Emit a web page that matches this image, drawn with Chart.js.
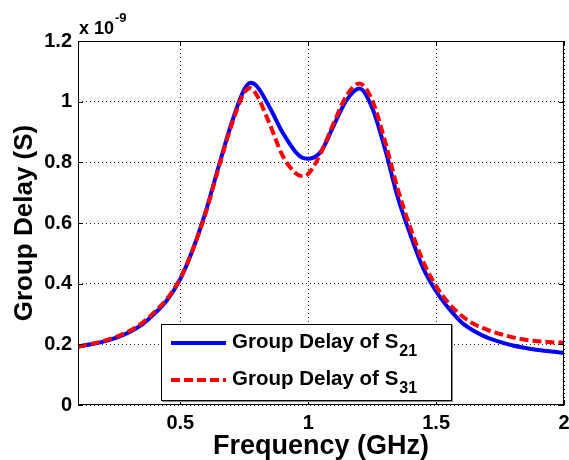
<!DOCTYPE html>
<html>
<head>
<meta charset="utf-8">
<script src="https://cdn.jsdelivr.net/npm/chart.js@4"></script>
<style>
  html, body { margin: 0; padding: 0; background: #fff; }
  #wrap { width: 569px; height: 460px; position: relative; }
</style>
</head>
<body>
<div id="wrap"><canvas id="gd"></canvas></div>
<script>
// frequency in GHz, group delay in units of 1e-9 s
const freqGHz = [0.1, 0.15, 0.2, 0.25, 0.3, 0.35, 0.4, 0.45, 0.5, 0.55, 0.6, 0.65, 0.7, 0.75, 0.775, 0.8, 0.85, 0.9, 0.95, 0.975, 1.0,
  1.05, 1.1, 1.15, 1.2, 1.25, 1.3, 1.35, 1.4, 1.45, 1.5, 1.55, 1.6, 1.65, 1.7, 1.75, 1.8, 1.85, 1.9, 1.95, 2.0];
const delayS21 = [0.193, 0.200, 0.209, 0.222, 0.240, 0.265, 0.302, 0.348, 0.415, 0.515, 0.640, 0.787, 0.928, 1.040, 1.062, 1.050, 0.980, 0.898, 0.835, 0.816, 0.812,
  0.836, 0.922, 1.005, 1.043, 0.980, 0.845, 0.685, 0.560, 0.450, 0.375, 0.318, 0.272, 0.243, 0.222, 0.208, 0.196, 0.188, 0.181, 0.176, 0.172];
const delayS31 = [0.192, 0.201, 0.211, 0.225, 0.244, 0.270, 0.307, 0.352, 0.418, 0.515, 0.635, 0.783, 0.922, 1.030, 1.045, 1.020, 0.925, 0.822, 0.765, 0.755, 0.762,
  0.832, 0.930, 1.020, 1.060, 1.005, 0.870, 0.712, 0.582, 0.472, 0.392, 0.335, 0.294, 0.266, 0.248, 0.234, 0.223, 0.215, 0.210, 0.207, 0.205];
const seriesNames = ['Group Delay of S', 'Group Delay of S'];
const seriesSubs = ['21', '31'];
const xTicks = [0.5, 1, 1.5, 2];
const yTicks = [0, 0.2, 0.4, 0.6, 0.8, 1, 1.2];

const FONT = "'Liberation Sans', Arial, sans-serif";

const toPoints = (ys) => freqGHz.map((f, i) => ({ x: f, y: ys[i] }));

// box, inward ticks, exponent label and legend (MATLAB style)
const matlabDeco = {
  id: 'matlabDeco',
  afterDatasetsDraw(chart) {
    const { ctx, chartArea: a, scales } = chart;
    const xs = scales.x, ys = scales.y;
    ctx.save();
    ctx.strokeStyle = '#000';
    ctx.lineWidth = 1;
    ctx.strokeRect(a.left + 0.5, a.top + 0.5, a.right - a.left - 1, a.bottom - a.top - 1);
    ctx.beginPath();
    xTicks.forEach(t => {
      const px = Math.round(xs.getPixelForValue(t)) + 0.5;
      ctx.moveTo(px, a.bottom); ctx.lineTo(px, a.bottom - 5);
      ctx.moveTo(px, a.top); ctx.lineTo(px, a.top + 5);
    });
    yTicks.forEach(t => {
      const py = Math.round(ys.getPixelForValue(t)) + 0.5;
      ctx.moveTo(a.left, py); ctx.lineTo(a.left + 5, py);
      ctx.moveTo(a.right, py); ctx.lineTo(a.right - 5, py);
    });
    ctx.stroke();

    // exponent
    ctx.fillStyle = '#000';
    ctx.textBaseline = 'alphabetic';
    ctx.textAlign = 'left';
    ctx.font = 'bold 18px ' + FONT;
    ctx.fillText('x 10', a.left + 1, a.top - 7);
    const w = ctx.measureText('x 10').width;
    ctx.font = 'bold 13px ' + FONT;
    ctx.fillText('-9', a.left + 2 + w, a.top - 19);

    // legend
    const lx = 161, ly = 324, lw = 291, lh = 77;
    ctx.fillStyle = '#fff';
    ctx.fillRect(lx, ly, lw, lh);
    ctx.strokeStyle = '#888';
    ctx.lineWidth = 2;
    ctx.beginPath();
    ctx.moveTo(lx + lw, ly + 1); ctx.lineTo(lx + lw, ly + lh);
    ctx.lineTo(lx + 1, ly + lh);
    ctx.stroke();
    ctx.strokeStyle = '#000';
    ctx.lineWidth = 1;
    ctx.strokeRect(lx + 0.5, ly + 0.5, lw - 1, lh - 1);

    const rows = [343, 380];
    chart.data.datasets.forEach((ds, i) => {
      const yy = rows[i];
      ctx.strokeStyle = ds.borderColor;
      ctx.lineWidth = ds.borderWidth;
      ctx.setLineDash(ds.borderDash || []);
      ctx.beginPath();
      ctx.moveTo(171, yy); ctx.lineTo(226, yy);
      ctx.stroke();
      ctx.setLineDash([]);
      ctx.fillStyle = '#000';
      ctx.font = 'bold 20.5px ' + FONT;
      ctx.textBaseline = 'middle';
      ctx.fillText(seriesNames[i], 232, yy - 1);
      const tw = ctx.measureText(seriesNames[i]).width;
      ctx.font = 'bold 16px ' + FONT;
      ctx.fillText(seriesSubs[i], 232 + tw + 1, yy + 9);
    });
    ctx.restore();
  }
};

new Chart(document.getElementById('gd'), {
  type: 'line',
  data: {
    datasets: [
      {
        label: 'Group Delay of S21',
        data: toPoints(delayS21),
        borderColor: '#0000ff',
        borderWidth: 4,
        pointRadius: 0,
        cubicInterpolationMode: 'monotone',
        order: 2
      },
      {
        label: 'Group Delay of S31',
        data: toPoints(delayS31),
        borderColor: '#ff0000',
        borderWidth: 4,
        borderDash: [9, 4],
        pointRadius: 0,
        cubicInterpolationMode: 'monotone',
        order: 1
      }
    ]
  },
  options: {
    responsive: true,
    maintainAspectRatio: false,
    animation: false,
    layout: { padding: { top: 41, right: 5, left: 0, bottom: 0 } },
    plugins: { legend: { display: false }, tooltip: { enabled: false } },
    scales: {
      x: {
        type: 'linear',
        min: 0.1,
        max: 2,
        afterBuildTicks: (s) => { s.ticks = xTicks.map(v => ({ value: v })); },
        afterFit: (s) => { s.height = 55; s.paddingLeft = 0; s.paddingRight = 0; },
        grid: { color: '#222', drawTicks: false },
        border: { display: false, dash: [1, 3] },
        ticks: {
          color: '#000',
          padding: 6,
          font: { family: FONT, size: 20, weight: 'bold' },
          callback: (v) => String(v)
        },
        title: {
          display: true,
          text: 'Frequency (GHz)',
          color: '#000',
          font: { family: FONT, size: 27, weight: 'bold', lineHeight: 1 },
          padding: { top: 0, bottom: 0 }
        }
      },
      y: {
        min: 0,
        max: 1.2,
        afterBuildTicks: (s) => { s.ticks = yTicks.map(v => ({ value: v })); },
        afterFit: (s) => { s.width = 78; s.paddingTop = 0; s.paddingBottom = 0; },
        grid: { color: '#222', drawTicks: false },
        border: { display: false, dash: [1, 3] },
        ticks: {
          color: '#000',
          padding: 6,
          font: { family: FONT, size: 20, weight: 'bold' },
          callback: (v) => String(v)
        },
        title: {
          display: true,
          text: 'Group Delay (S)',
          color: '#000',
          font: { family: FONT, size: 26, weight: 'bold', lineHeight: 1 },
          padding: { top: 12, bottom: 0 }
        }
      }
    }
  },
  plugins: [matlabDeco]
});
</script>
</body>
</html>
